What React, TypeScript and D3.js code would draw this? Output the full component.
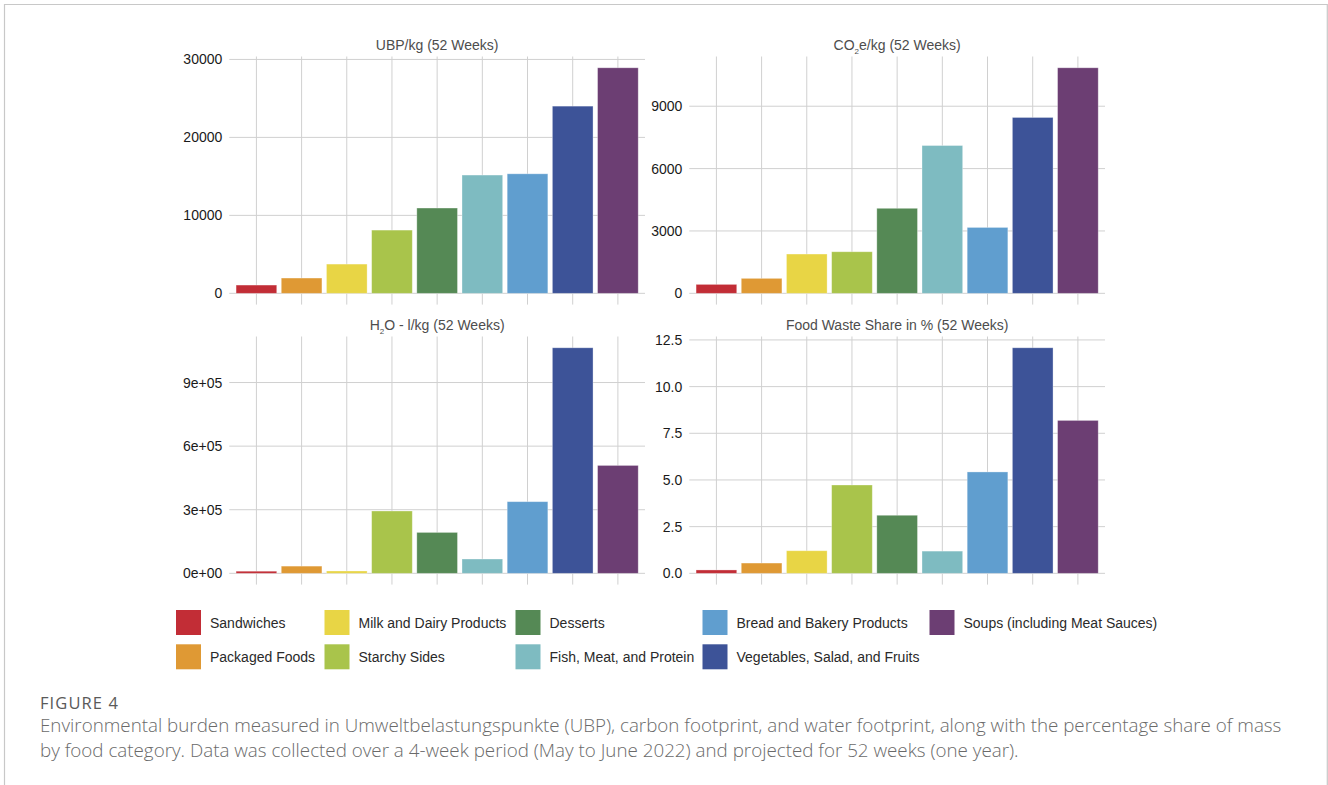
import React from "react";
import * as d3 from "d3";

// Food categories (legend order, column-major in two rows)
const categories = [
  "Sandwiches",
  "Packaged Foods",
  "Milk and Dairy Products",
  "Starchy Sides",
  "Desserts",
  "Fish, Meat, and Protein",
  "Bread and Bakery Products",
  "Vegetables, Salad, and Fruits",
  "Soups (including Meat Sauces)",
];

const colors = [
  "#c22d36",
  "#df9934",
  "#e8d545",
  "#a9c44b",
  "#558955",
  "#7ebbc1",
  "#609ecf",
  "#3d5398",
  "#6c3e73",
];

// Values per category, 52-week projection
const ubpValues = [1060, 1960, 3750, 8110, 10940, 15170, 15330, 24010, 28930];
const co2Values = [430, 720, 1890, 2000, 4090, 7110, 3170, 8460, 10850];
const h2oValues = [10000, 34000, 11000, 294000, 193000, 67500, 338000, 1064000, 509000];
const wasteValues = [0.18, 0.55, 1.21, 4.73, 3.11, 1.19, 5.43, 12.08, 8.19];

const ubpTicks = [0, 10000, 20000, 30000];
const ubpTickLabels = ["0", "10000", "20000", "30000"];
const co2Ticks = [0, 3000, 6000, 9000];
const co2TickLabels = ["0", "3000", "6000", "9000"];
const h2oTicks = [0, 300000, 600000, 900000];
const h2oTickLabels = ["0e+00", "3e+05", "6e+05", "9e+05"];
const wasteTicks = [0, 2.5, 5, 7.5, 10, 12.5];
const wasteTickLabels = ["0.0", "2.5", "5.0", "7.5", "10.0", "12.5"];

const FONT = "'Liberation Sans', Arial, Helvetica, sans-serif";
const GRID = "#d0d0d0";

type TitlePart = { text: string; sub?: boolean };

type PanelSpec = {
  title: TitlePart[];
  values: number[];
  ticks: number[];
  tickLabels: string[];
  x0: number;
  y0: number;
};

const PANEL_W = 415.7;
const PANEL_H = 248.1;

function Panel({ spec }: { spec: PanelSpec }) {
  const { values, ticks, tickLabels, x0, y0, title } = spec;
  const x = d3
    .scaleBand<string>()
    .domain(categories)
    .range([x0, x0 + PANEL_W])
    .paddingInner(0.1)
    .paddingOuter(0.15);
  const max = d3.max(values) as number;
  const y = d3
    .scaleLinear()
    .domain([-0.05 * max, 1.05 * max])
    .range([y0 + PANEL_H, y0]);
  const cx = x0 + PANEL_W / 2;
  return (
    <g>
      <text
        x={cx}
        y={y0 - 7}
        textAnchor="middle"
        fontFamily={FONT}
        fontSize={14}
        fill="#4d4d4d"
      >
        {title.map((p, i) =>
          p.sub ? (
            <tspan key={i} fontSize={8} dy={4}>
              {p.text}
            </tspan>
          ) : (
            <tspan key={i} dy={i > 0 && title[i - 1].sub ? -4 : 0}>
              {p.text}
            </tspan>
          )
        )}
      </text>
      {ticks.map((t, i) => (
        <g key={"h" + i}>
          <line
            x1={x0}
            x2={x0 + PANEL_W}
            y1={y(t)}
            y2={y(t)}
            stroke={GRID}
            strokeWidth={1}
          />
          <text
            x={x0 - 7}
            y={y(t)}
            dy="0.36em"
            textAnchor="end"
            fontFamily={FONT}
            fontSize={14}
            fill="#1a1a1a"
          >
            {tickLabels[i]}
          </text>
        </g>
      ))}
      {categories.map((c) => (
        <line
          key={"v" + c}
          x1={(x(c) as number) + x.bandwidth() / 2}
          x2={(x(c) as number) + x.bandwidth() / 2}
          y1={y0}
          y2={y0 + PANEL_H}
          stroke={GRID}
          strokeWidth={1}
        />
      ))}
      {categories.map((c, i) => (
        <rect
          key={"b" + c}
          x={x(c)}
          y={y(values[i])}
          width={x.bandwidth()}
          height={y(0) - y(values[i])}
          fill={colors[i]}
          stroke="#ffffff"
          strokeOpacity={0.4}
          strokeWidth={0.8}
        />
      ))}
    </g>
  );
}

const panels: PanelSpec[] = [
  {
    title: [{ text: "UBP/kg (52 Weeks)" }],
    values: ubpValues,
    ticks: ubpTicks,
    tickLabels: ubpTickLabels,
    x0: 229.3,
    y0: 56.5,
  },
  {
    title: [{ text: "CO" }, { text: "2", sub: true }, { text: "e/kg (52 Weeks)" }],
    values: co2Values,
    ticks: co2Ticks,
    tickLabels: co2TickLabels,
    x0: 689.3,
    y0: 56.5,
  },
  {
    title: [{ text: "H" }, { text: "2", sub: true }, { text: "O - l/kg (52 Weeks)" }],
    values: h2oValues,
    ticks: h2oTicks,
    tickLabels: h2oTickLabels,
    x0: 229.3,
    y0: 336.5,
  },
  {
    title: [{ text: "Food Waste Share in % (52 Weeks)" }],
    values: wasteValues,
    ticks: wasteTicks,
    tickLabels: wasteTickLabels,
    x0: 689.3,
    y0: 336.5,
  },
];

// Legend columns: left edge of each column's key
const legendColX = [176, 324.5, 515.5, 702.5, 929.5];
const legendRowY = [610, 644.3];
const KEY = 25;

export default function App() {
  return (
    <svg
      width={1328}
      height={785}
      style={{ position: "absolute", left: 0, top: 0, background: "#fff" }}
    >
      <rect x={0} y={0} width={1328} height={785} fill="#fff" />
      <path
        d="M4.5,800 L4.5,4.5 L1327.3,4.5 L1327.3,800"
        fill="none"
        stroke="#c8c8c8"
        strokeWidth={1.2}
      />
      {panels.map((p, i) => (
        <Panel key={i} spec={p} />
      ))}
      {categories.map((c, i) => {
        const col = Math.floor(i / 2);
        const row = i % 2;
        const kx = legendColX[col];
        const ky = legendRowY[row];
        return (
          <g key={"l" + c}>
            <rect x={kx} y={ky} width={KEY} height={KEY} fill={colors[i]} />
            <text
              x={kx + 34}
              y={ky + KEY / 2}
              dy="0.36em"
              fontFamily={FONT}
              fontSize={14}
              fill="#2a2a2a"
            >
              {c}
            </text>
          </g>
        );
      })}
      <text
        x={40}
        y={709}
        fontFamily="'Open Sans', sans-serif"
        fontSize={16.5}
        fill="#5a5a5a"
        letterSpacing={1.1}
      >
        FIGURE 4
      </text>
      <text
        x={40}
        y={732}
        fontFamily="'Open Sans', sans-serif"
        fontSize={18.8}
        fontWeight={300}
        fill="#6a6a6a"
      >
        Environmental burden measured in Umweltbelastungspunkte (UBP), carbon footprint, and water
        footprint, along with the percentage share of mass
      </text>
      <text
        x={40}
        y={757}
        fontFamily="'Open Sans', sans-serif"
        fontSize={18.8}
        fontWeight={300}
        fill="#6a6a6a"
      >
        by food category. Data was collected over a 4-week period (May to June 2022) and projected
        for 52 weeks (one year).
      </text>
    </svg>
  );
}
